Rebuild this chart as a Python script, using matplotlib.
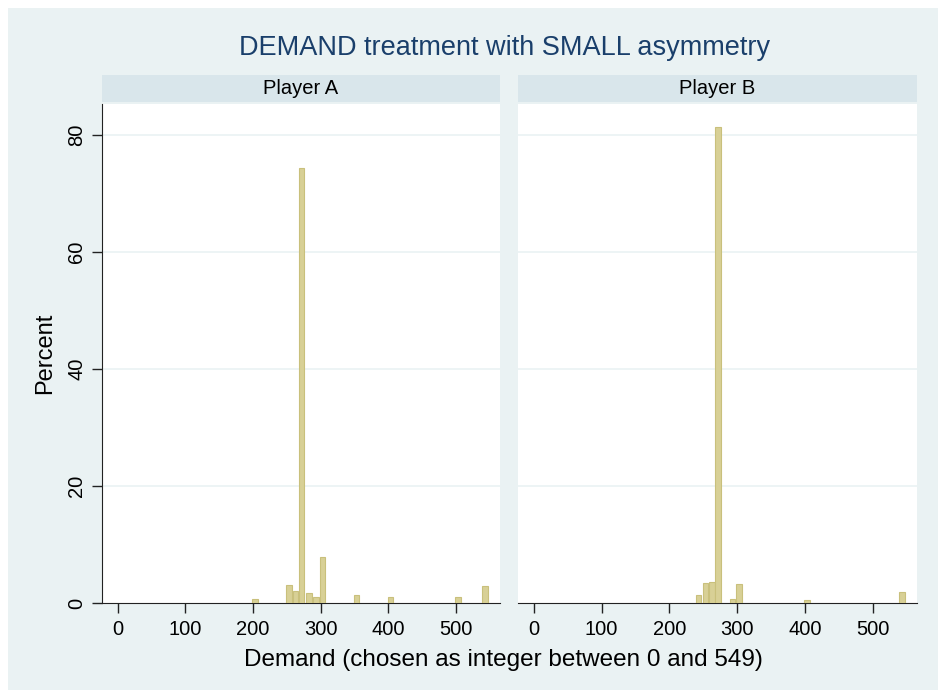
import matplotlib
matplotlib.use("Agg")
import matplotlib.pyplot as plt
from matplotlib.patches import Rectangle

# bin centres (demand) and percent heights
a_demand = [203, 253, 263, 272, 283, 293, 303, 353, 403, 503, 543]
a_percent = [0.7, 3.1, 2.1, 74.3, 1.8, 1.1, 7.9, 1.4, 1.1, 1.1, 2.9]

b_demand = [243, 253, 263, 272, 293, 303, 403, 543]
b_percent = [1.4, 3.5, 3.6, 81.4, 0.8, 3.3, 0.5, 2.0]

panels = ["Player A", "Player B"]
xticks = [0, 100, 200, 300, 400, 500]
yticks = [0, 20, 40, 60, 80]

bg = "#eaf2f3"
strip = "#d9e6eb"
bar_fill = "#d8d096"
bar_edge = "#c9c07c"

W, H = 938, 690
fig = plt.figure(figsize=(W / 100, H / 100), dpi=100, facecolor="white")
fig.patches.append(Rectangle((8 / W, 0), 1, 1 - 8 / H, transform=fig.transFigure,
                             facecolor=bg, edgecolor="none", zorder=-10))

plt.rcParams["font.family"] = ["Liberation Sans", "DejaVu Sans"]


def box(x0, y0, x1, y1):
    return [x0 / W, 1 - y1 / H, (x1 - x0) / W, (y1 - y0) / H]


axes = [fig.add_axes(box(101.7, 104, 500, 603.3)),
        fig.add_axes(box(518, 104, 916.7, 603.3))]
data = [(a_demand, a_percent), (b_demand, b_percent)]

for i, (ax, (xs, ys), name) in enumerate(zip(axes, data, panels)):
    ax.set_facecolor("white")
    ax.bar(xs, ys, width=8, color=bar_fill, edgecolor=bar_edge, linewidth=0.8, zorder=3)
    ax.set_xlim(-23.5, 565)
    ax.set_ylim(0, 85.3)
    ax.set_xticks(xticks)
    ax.set_yticks(yticks)
    for y in yticks[1:]:
        ax.axhline(y, color=bg, linewidth=1.2, zorder=1)
    for s in ["top", "right"]:
        ax.spines[s].set_visible(False)
    ax.spines["bottom"].set_color("#222222")
    ax.spines["left"].set_color("#222222")
    ax.tick_params(axis="x", length=7, width=1, color="#222222", labelsize=14.5, pad=5)
    ax.tick_params(axis="y", length=7, width=1, color="#222222", labelsize=14.5, pad=4)
    if i == 0:
        for lbl in ax.get_yticklabels():
            lbl.set_rotation(90)
            lbl.set_va("center")
        ax.set_ylabel("Percent", fontsize=17, labelpad=8)
    else:
        ax.spines["left"].set_visible(False)
        ax.tick_params(axis="y", left=False, labelleft=False)

    # strip header
    left = 101.7 if i == 0 else 518
    right = 500 if i == 0 else 916.7
    fig.patches.append(Rectangle(((left) / W, 1 - 102 / H), (right - left) / W, 27 / H,
                                 transform=fig.transFigure, facecolor=strip,
                                 edgecolor="none", zorder=-5))
    fig.text((left + right) / 2 / W, 1 - 88.5 / H, name, ha="center", va="center",
             fontsize=14.5, color="black")

fig.text(505 / W, 1 - 48 / H, "DEMAND treatment with SMALL asymmetry", ha="center",
         va="center", fontsize=19.5, color="#1a3f6b")
fig.text(503 / W, 1 - 660 / H, "Demand (chosen as integer between 0 and 549)",
         ha="center", va="center", fontsize=17.5, color="black")

fig.savefig("out.png", dpi=100, facecolor="white")
